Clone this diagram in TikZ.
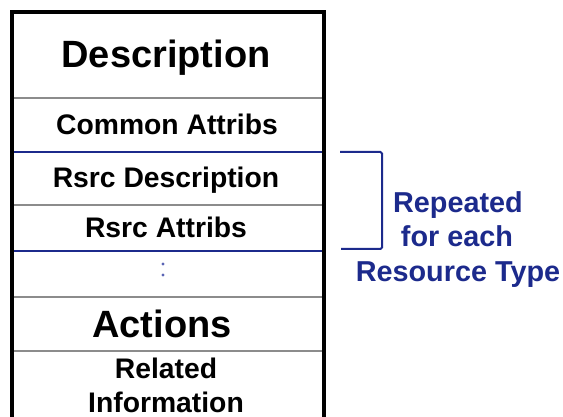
\documentclass[tikz,border=0pt]{standalone}
\usepackage{fontspec}
\setmainfont{Liberation Sans}
\definecolor{navy}{HTML}{1C2A8C}
\definecolor{sepgray}{HTML}{8C8C8C}
\definecolor{dotblue}{HTML}{5A64B4}
\tikzset{
  bigtxt/.style={anchor=base, inner sep=0pt, font=\fontsize{38}{41}\selectfont\bfseries},
  smalltxt/.style={anchor=base, inner sep=0pt, font=\fontsize{28.3}{33}\selectfont\bfseries},
  bluetxt/.style={anchor=base, inner sep=0pt, text=navy, font=\fontsize{28.8}{34}\selectfont\bfseries},
  graysep/.style={draw=sepgray, line width=2.2pt},
  bluesep/.style={draw=navy, line width=2pt},
  frame/.style={draw=black, line width=4.5pt},
  bracket/.style={draw=navy, line width=2pt, rounded corners=1.5pt}
}
\begin{document}
\begin{tikzpicture}[x=1pt,y=-1pt]
\useasboundingbox (0,0) rectangle (563,417);
% frame
\draw[frame] (12,425) -- (12,12) -- (324,12) -- (324,425);
% separators
\coordinate (l1) at (14,98);  \coordinate (r1) at (322,98);
\coordinate (l2) at (14,152); \coordinate (r2) at (322,152);
\coordinate (l3) at (14,205); \coordinate (r3) at (322,205);
\coordinate (l4) at (14,251); \coordinate (r4) at (322,251);
\coordinate (l5) at (14,297); \coordinate (r5) at (322,297);
\coordinate (l6) at (14,351); \coordinate (r6) at (322,351);
\draw[graysep] (l1) -- (r1);
\draw[bluesep] (l2) -- (r2);
\draw[graysep] (l3) -- (r3);
\draw[bluesep] (l4) -- (r4);
\draw[graysep] (l5) -- (r5);
\draw[graysep] (l6) -- (r6);
% texts
\node[bigtxt] (desc) at (166,68) {Description};
\node[smalltxt] (common) at (167,135) {Common Attribs};
\node[smalltxt] (rdesc) at (166,188) {Rsrc Description};
\node[smalltxt] (rattr) at (166,238) {Rsrc Attribs};
\node[bigtxt] (actions) at (162,337) {Actions};
\node[smalltxt] (related) at (166,378) {Related};
\node[smalltxt] (info) at (166,412) {Information};
% colon
\fill[dotblue] (163,264) circle (1.6pt) coordinate (dot1);
\fill[dotblue] (163,275) circle (1.6pt) coordinate (dot2);
% bracket
\coordinate (bt) at (340,152);
\coordinate (bb) at (341,249);
\draw[bracket] (bt) -- (382,152) -- (382,249) -- (bb);
% blue label
\node[bluetxt] (rep) at (458,213) {Repeated};
\node[bluetxt] (foreach) at (457,247) {for each};
\node[bluetxt] (rtype) at (458,282) {Resource Type};
\end{tikzpicture}
\end{document}
